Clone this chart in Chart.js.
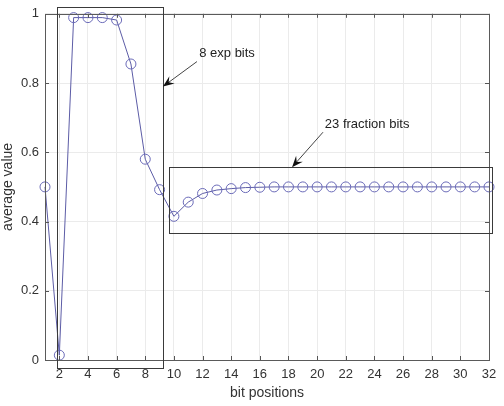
<!DOCTYPE html>
<html>
<head>
<meta charset="utf-8">
<script src="https://cdn.jsdelivr.net/npm/chart.js@4/dist/chart.umd.min.js"></script>
<style>
  html, body { margin: 0; padding: 0; background: #fff; }
  #wrap { width: 504px; height: 406px; }
</style>
</head>
<body>
<div id="wrap"><canvas id="chart"></canvas></div>
<script>
// datos
const bitPositions = [1, 2, 3, 4, 5, 6, 7, 8, 9, 10, 11, 12, 13, 14, 15, 16,
  17, 18, 19, 20, 21, 22, 23, 24, 25, 26, 27, 28, 29, 30, 31, 32];
const averageValue = [0.5, 0.014, 0.989, 0.989, 0.989, 0.982, 0.855, 0.58,
  0.492, 0.415, 0.456, 0.481, 0.491, 0.495, 0.498, 0.499,
  0.5, 0.5, 0.5, 0.5, 0.5, 0.5, 0.5, 0.5, 0.5, 0.5, 0.5, 0.5, 0.5, 0.5, 0.5, 0.5];
const xTicks = [2, 4, 6, 8, 10, 12, 14, 16, 18, 20, 22, 24, 26, 28, 30, 32];
const yTicks = [0, 0.2, 0.4, 0.6, 0.8, 1];

// cajas y flechas (en unidades de datos)
const expBox = { x0: 1.84, x1: 9.24, y0: -0.023, y1: 1.02 };
const fracBox = { x0: 9.66, x1: 32.2, y0: 0.366, y1: 0.558 };
const notes = [
  { text: "8 exp bits", x: 13.71, y: 0.885, from: [11.61, 0.862], to: [9.24, 0.79] },
  { text: "23 fraction bits", x: 23.49, y: 0.681, from: [20.41, 0.658], to: [18.25, 0.557] }
];

const FONT = "'Liberation Sans', Arial, sans-serif";

const puntos = bitPositions.map((b, i) => ({ x: b, y: averageValue[i] }));

////////////plugin para marco, ticks internos, cajas y textos
const extras = {
  id: "extras",
  afterDatasetsDraw(chart) {
    const ctx = chart.ctx;
    const xs = chart.scales.x, ys = chart.scales.y;
    const a = chart.chartArea;
    ctx.save();
    // ticks hacia adentro
    ctx.strokeStyle = "#555";
    ctx.lineWidth = 1;
    ctx.beginPath();
    xTicks.forEach(t => {
      const px = Math.round(xs.getPixelForValue(t)) + 0.5;
      ctx.moveTo(px, a.bottom); ctx.lineTo(px, a.bottom - 4);
      ctx.moveTo(px, a.top); ctx.lineTo(px, a.top + 4);
    });
    yTicks.forEach(t => {
      const py = Math.round(ys.getPixelForValue(t)) + 0.5;
      ctx.moveTo(a.left, py); ctx.lineTo(a.left + 4, py);
      ctx.moveTo(a.right, py); ctx.lineTo(a.right - 4, py);
    });
    ctx.stroke();
    // marco
    ctx.strokeStyle = "#5a5a5a";
    ctx.strokeRect(Math.round(a.left) + 0.5, Math.round(a.top) + 0.5,
      Math.round(a.right - a.left), Math.round(a.bottom - a.top));
    // cajas
    ctx.strokeStyle = "#3a3a3a";
    [expBox, fracBox].forEach(b => {
      const l = xs.getPixelForValue(b.x0), r = xs.getPixelForValue(b.x1);
      const t = ys.getPixelForValue(b.y1), bo = ys.getPixelForValue(b.y0);
      ctx.strokeRect(Math.round(l) + 0.5, Math.round(t) + 0.5, Math.round(r - l), Math.round(bo - t));
    });
    // textos y flechas
    notes.forEach(n => {
      ctx.fillStyle = "#222";
      ctx.font = "13px " + FONT;
      ctx.textAlign = "center";
      ctx.textBaseline = "middle";
      ctx.fillText(n.text, xs.getPixelForValue(n.x), ys.getPixelForValue(n.y));
      const x1 = xs.getPixelForValue(n.from[0]), y1 = ys.getPixelForValue(n.from[1]);
      const x2 = xs.getPixelForValue(n.to[0]), y2 = ys.getPixelForValue(n.to[1]);
      const ang = Math.atan2(y2 - y1, x2 - x1);
      ctx.strokeStyle = "#444";
      ctx.beginPath();
      ctx.moveTo(x1, y1); ctx.lineTo(x2 - 6 * Math.cos(ang), y2 - 6 * Math.sin(ang));
      ctx.stroke();
      ctx.fillStyle = "#111";
      ctx.beginPath();
      ctx.moveTo(x2, y2);
      ctx.lineTo(x2 - 12 * Math.cos(ang - 0.38), y2 - 12 * Math.sin(ang - 0.38));
      ctx.lineTo(x2 - 7 * Math.cos(ang), y2 - 7 * Math.sin(ang));
      ctx.lineTo(x2 - 12 * Math.cos(ang + 0.38), y2 - 12 * Math.sin(ang + 0.38));
      ctx.closePath();
      ctx.fill();
    });
    ctx.restore();
  }
};

const config = {
  type: "line",
  data: {
    datasets: [{
      label: "average value",
      data: puntos,
      borderColor: "#5c5ca6",
      borderWidth: 1,
      pointRadius: 5,
      pointHoverRadius: 5,
      pointBorderColor: "#6a6ab8",
      pointBackgroundColor: "rgba(0,0,0,0)",
      pointBorderWidth: 1,
      tension: 0,
      fill: false,
      clip: false
    }]
  },
  options: {
    responsive: true,
    maintainAspectRatio: false,
    animation: false,
    layout: { padding: { top: 12, right: 15, left: 0, bottom: 0 } },
    plugins: { legend: { display: false }, tooltip: { enabled: false } },
    scales: {
      x: {
        type: "linear",
        min: 1,
        max: 32,
        afterBuildTicks: s => { s.ticks = xTicks.map(v => ({ value: v })); },
        afterFit: s => { s.height = 46; },
        grid: { color: "#ebebeb", drawTicks: false },
        border: { display: false },
        ticks: { color: "#333", padding: 7, font: { family: FONT, size: 13 }, maxRotation: 0, autoSkip: false },
        title: { display: true, text: "bit positions", color: "#333", font: { family: FONT, size: 14 }, padding: { top: 0, bottom: 4 } }
      },
      y: {
        min: 0,
        max: 1,
        afterBuildTicks: s => { s.ticks = yTicks.map(v => ({ value: v })); },
        afterFit: s => { s.width = 45; },
        grid: { color: "#ebebeb", drawTicks: false },
        border: { display: false },
        ticks: { color: "#333", padding: 6, font: { family: FONT, size: 13 },
          callback: v => String(Math.round(v * 10) / 10) },
        title: { display: true, text: "average value", color: "#333", font: { family: FONT, size: 14 }, padding: { top: 0, bottom: 2 } }
      }
    }
  },
  plugins: [extras]
};

const chart = new Chart(document.getElementById("chart"), config);
</script>
</body>
</html>
